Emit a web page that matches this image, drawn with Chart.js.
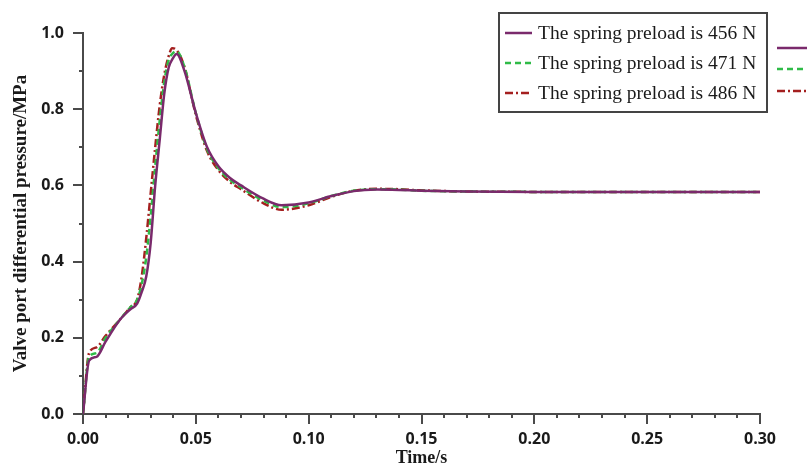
<!DOCTYPE html>
<html lang="en">

<head>
    <meta charset="UTF-8">
    <title>Valve port differential pressure</title>
    <script src="https://cdn.jsdelivr.net/npm/chart.js@4/dist/chart.umd.min.js"></script>
    <style>
        body { margin: 0; background: #fff; }
    </style>
</head>

<body>
    <canvas id="grafico" width="807" height="472"></canvas>
</body>

</html>

<script>
    // time axis (s)
    var tempo = [0, 0.0027, 0.006, 0.01, 0.0167, 0.021, 0.024, 0.026, 0.028, 0.030, 0.032, 0.034, 0.036, 0.038,
        0.0395, 0.0415, 0.045, 0.05, 0.055, 0.06, 0.065, 0.07, 0.08, 0.088, 0.10, 0.11, 0.12, 0.13, 0.14,
        0.15, 0.17, 0.2, 0.25, 0.3]

    // pressure difference (MPa) for each spring preload
    var carga456 = [0, 0.14, 0.15, 0.19, 0.25, 0.275, 0.29, 0.32, 0.36, 0.45, 0.60, 0.72, 0.84, 0.91,
        0.93, 0.945, 0.90, 0.79, 0.70, 0.65, 0.62, 0.60, 0.565, 0.548, 0.555, 0.572, 0.585, 0.589, 0.588,
        0.586, 0.584, 0.583, 0.583, 0.583]
    var carga471 = [0, 0.15, 0.16, 0.20, 0.25, 0.28, 0.30, 0.34, 0.41, 0.52, 0.65, 0.77, 0.87, 0.93,
        0.945, 0.952, 0.91, 0.79, 0.695, 0.645, 0.615, 0.595, 0.56, 0.543, 0.553, 0.572, 0.586, 0.590, 0.589,
        0.586, 0.584, 0.583, 0.583, 0.583]
    var carga486 = [0, 0.16, 0.175, 0.205, 0.25, 0.28, 0.30, 0.36, 0.46, 0.58, 0.70, 0.81, 0.89, 0.94,
        0.96, 0.955, 0.91, 0.785, 0.69, 0.64, 0.61, 0.59, 0.553, 0.536, 0.548, 0.570, 0.586, 0.591, 0.590,
        0.587, 0.584, 0.583, 0.583, 0.583]

    var nomes = ['The spring preload is 456 N', 'The spring preload is 471 N', 'The spring preload is 486 N']

    var ticks_x = [0, 0.05, 0.10, 0.15, 0.20, 0.25, 0.30]
    var ticks_y = [0, 0.2, 0.4, 0.6, 0.8, 1.0]

    var cor_eixo = '#4a4a4a'

    function pontos(serie) {
        return tempo.map(function (t, i) { return { x: t, y: serie[i] } })
    }

    // tick marks (major + minor) drawn by hand, and the legend box
    const extras = {
        id: 'extras',
        afterDraw(chart) {
            const ctx = chart.ctx
            const sx = chart.scales.x
            const sy = chart.scales.y
            ctx.save()
            ctx.strokeStyle = cor_eixo
            ctx.lineWidth = 2
            for (let i = 0; i <= 30; i++) {
                const px = Math.round(sx.getPixelForValue(i / 100))
                const len = (i % 5 == 0) ? 10 : 4
                ctx.beginPath()
                ctx.moveTo(px, sy.bottom)
                ctx.lineTo(px, sy.bottom + len)
                ctx.stroke()
            }
            for (let i = 0; i <= 10; i++) {
                const py = Math.round(sy.getPixelForValue(i / 10))
                const len = (i % 2 == 0) ? 10 : 4
                ctx.beginPath()
                ctx.moveTo(sx.left, py)
                ctx.lineTo(sx.left - len, py)
                ctx.stroke()
            }

            // legend
            ctx.lineWidth = 2
            ctx.strokeStyle = '#444'
            ctx.strokeRect(499, 13, 268, 99)
            ctx.font = '19.5px "Liberation Serif", serif'
            ctx.textBaseline = 'middle'
            ctx.fillStyle = '#1a1a1a'
            const ds = chart.data.datasets
            const linhas = [33, 63, 93]
            const fora = [48, 69, 91]
            ds.forEach(function (d, i) {
                ctx.strokeStyle = d.borderColor
                ctx.lineWidth = 2.5
                ctx.setLineDash(d.borderDash || [])
                ctx.beginPath()
                ctx.moveTo(505, linhas[i])
                ctx.lineTo(532, linhas[i])
                ctx.stroke()
                ctx.beginPath()
                ctx.moveTo(777, fora[i])
                ctx.lineTo(807, fora[i])
                ctx.stroke()
                ctx.setLineDash([])
                ctx.fillText(d.label, 538, linhas[i] + 1)
            })
            ctx.restore()
        }
    }

    const fonte_tick = { family: '"Open Sans", sans-serif', size: 16, weight: 'bold' }

    const config = {
        type: 'line',
        data: {
            datasets: [{
                label: nomes[0],
                data: pontos(carga456),
                borderColor: '#7a2a6c',
                borderWidth: 2.5
            }, {
                label: nomes[1],
                data: pontos(carga471),
                borderColor: '#2fbb47',
                borderWidth: 2.5,
                borderDash: [6, 4]
            }, {
                label: nomes[2],
                data: pontos(carga486),
                borderColor: '#a41f1f',
                borderWidth: 2.5,
                borderDash: [8, 3, 2, 3]
            }]
        },
        options: {
            responsive: false,
            animation: false,
            layout: { padding: { top: 33, right: 47, left: 0, bottom: 0 } },
            elements: {
                point: { radius: 0 },
                line: { tension: 0.4, cubicInterpolationMode: 'monotone' }
            },
            plugins: {
                legend: { display: false },
                tooltip: { enabled: false }
            },
            scales: {
                x: {
                    type: 'linear',
                    min: 0,
                    max: 0.3,
                    afterBuildTicks: function (s) { s.ticks = ticks_x.map(function (v) { return { value: v } }) },
                    afterFit: function (s) { s.height = 58 },
                    grid: { display: false, drawTicks: false },
                    border: { display: true, color: cor_eixo, width: 2 },
                    ticks: {
                        color: '#1a1a1a',
                        font: fonte_tick,
                        padding: 16,
                        maxRotation: 0,
                        autoSkip: false,
                        callback: function (v) { return v.toFixed(2) }
                    },
                    title: {
                        display: true,
                        text: 'Time/s',
                        color: '#1a1a1a',
                        font: { family: '"Liberation Serif", serif', size: 18, weight: 'bold' },
                        padding: { top: 0, bottom: 3 }
                    }
                },
                y: {
                    min: 0,
                    max: 1,
                    afterBuildTicks: function (s) { s.ticks = ticks_y.map(function (v) { return { value: v } }) },
                    afterFit: function (s) { s.width = 83 },
                    grid: { display: false, drawTicks: false },
                    border: { display: true, color: cor_eixo, width: 2 },
                    ticks: {
                        color: '#1a1a1a',
                        font: fonte_tick,
                        padding: 19,
                        autoSkip: false,
                        callback: function (v) { return v.toFixed(1) }
                    },
                    title: {
                        display: true,
                        text: 'Valve port differential pressure/MPa',
                        color: '#1a1a1a',
                        font: { family: '"Liberation Serif", serif', size: 19, weight: 'bold' },
                        padding: { top: 10, bottom: 0 }
                    }
                }
            }
        },
        plugins: [extras]
    }

    new Chart(document.getElementById('grafico'), config)
</script>
